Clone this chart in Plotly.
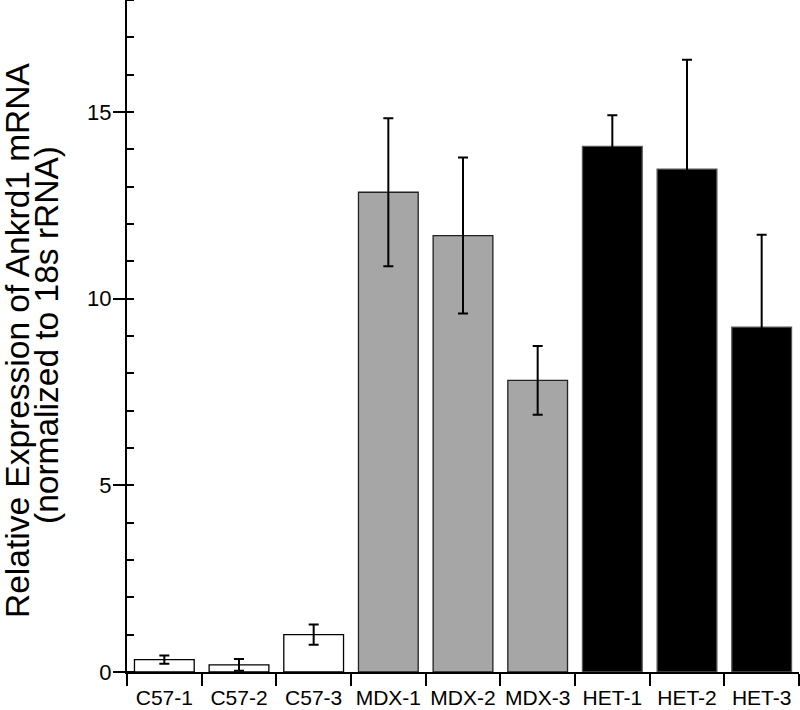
import plotly.graph_objects as go

categories = ["C57-1", "C57-2", "C57-3", "MDX-1", "MDX-2", "MDX-3", "HET-1", "HET-2", "HET-3"]
groups = ["C57", "C57", "C57", "MDX", "MDX", "MDX", "HET", "HET", "HET"]
expression = [0.33, 0.19, 1.00, 12.85, 11.69, 7.81, 14.08, 13.47, 9.24]
sem = [0.11, 0.155, 0.27, 1.98, 2.09, 0.92, 0.83, 2.93, 2.47]
y_ticks = [0, 5, 10, 15]
title_lines = ["Relative Expression of Ankrd1 mRNA", "(normalized to 18s rRNA)"]

fill = {"C57": "#ffffff", "MDX": "#a6a6a6", "HET": "#000000"}
edge = {"C57": "#000000", "MDX": "#222222", "HET": "#555555"}

W, H = 800, 710
L, R, T, B = 127, 1, 0, 38
FONT = "Arial, Liberation Sans, sans-serif"

fig = go.Figure(go.Bar(
    x=list(range(len(categories))),
    y=expression,
    width=0.8,
    marker=dict(color=[fill[g] for g in groups],
                line=dict(color=[edge[g] for g in groups], width=1.3)),
    error_y=dict(type="data", array=sem, visible=True, color="#000000",
                 thickness=2, width=5),
    showlegend=False,
))

fig.update_layout(
    width=W, height=H,
    margin=dict(l=L, r=R, t=T, b=B, pad=0, autoexpand=False),
    plot_bgcolor="white", paper_bgcolor="white",
    font=dict(family=FONT, color="black"),
    xaxis=dict(range=[-0.5, len(categories) - 0.5],
               tickvals=list(range(len(categories))), ticktext=categories,
               ticks="", ticklabelstandoff=6,
               showline=True, linewidth=2, linecolor="black",
               showgrid=False, zeroline=False, automargin=False, tickangle=0,
               tickfont=dict(size=21, family=FONT),
               minor=dict(tickvals=[i - 0.5 for i in range(len(categories) + 1)],
                          ticks="outside", ticklen=12, tickwidth=2,
                          tickcolor="black", showgrid=False)),
    yaxis=dict(range=[0, 18], tickvals=y_ticks, ticktext=[str(v) for v in y_ticks],
               ticks="outside", ticklen=12, tickwidth=2, tickcolor="black",
               showline=True, linewidth=2, linecolor="black",
               showgrid=False, zeroline=False, automargin=False,
               ticklabelstandoff=-3,
               tickfont=dict(size=22, family=FONT),
               minor=dict(dtick=1, tick0=0, ticks="inside", ticklen=7,
                          tickwidth=2, tickcolor="black", showgrid=False)),
)

pw = W - L - R
ph = H - T - B
for txt, cx, cy in zip(title_lines, [17, 46], [340, 335]):
    fig.add_annotation(text=txt, textangle=-90, xref="paper", yref="paper",
                       x=(cx - L) / pw, y=1 - (cy - T) / ph,
                       xanchor="center", yanchor="middle",
                       showarrow=False, font=dict(size=33.5, family=FONT, color="black"))

fig.write_html("out.html", config={"displayModeBar": False},
               post_script="document.body.style.margin='0';document.body.style.padding='0';")
